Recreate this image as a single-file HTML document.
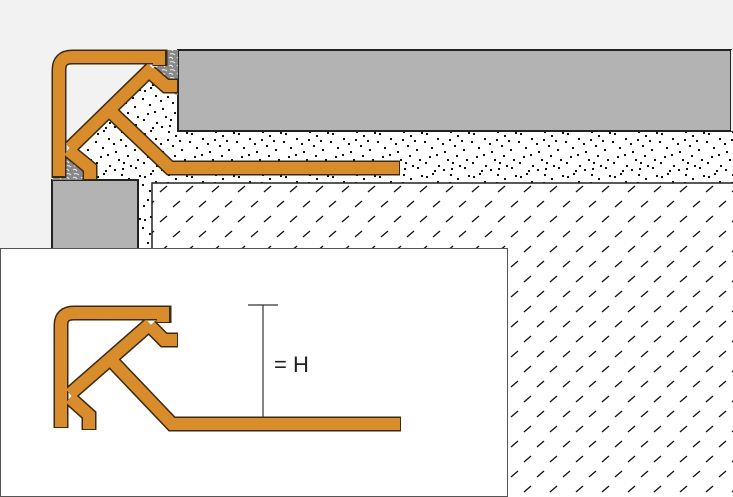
<!DOCTYPE html>
<html><head><meta charset="utf-8"><style>
html,body{margin:0;padding:0;background:#f2f2f2;}
svg{display:block;}
</style></head><body>
<svg width="733" height="497" viewBox="0 0 733 497" xmlns="http://www.w3.org/2000/svg">
<defs>
<pattern id="dots" width="47" height="43" patternUnits="userSpaceOnUse">
<rect width="47" height="43" fill="#fff"/>
<g fill="#111">
<rect x="3" y="4" width="2" height="2"/><rect x="14" y="9" width="2" height="2"/><rect x="27" y="2" width="2" height="2"/>
<rect x="38" y="11" width="2" height="2"/><rect x="8" y="18" width="2" height="2"/><rect x="21" y="22" width="2" height="2"/>
<rect x="33" y="26" width="2" height="2"/><rect x="43" y="30" width="2" height="2"/><rect x="2" y="33" width="2" height="2"/>
<rect x="15" y="36" width="2" height="2"/><rect x="28" y="39" width="2" height="2"/><rect x="40" y="20" width="2" height="2"/>
<rect x="19" y="14" width="2" height="2"/><rect x="31" y="16" width="2" height="2"/><rect x="6" y="27" width="2" height="2"/>
<rect x="24" y="30" width="2" height="2"/><rect x="36" y="36" width="2" height="2"/><rect x="11" y="41" width="2" height="2"/>
<rect x="9" y="1" width="2" height="2"/><rect x="34" y="6" width="2" height="2"/><rect x="45" y="3" width="2" height="2"/>
<rect x="1" y="12" width="2" height="2"/><rect x="26" y="10" width="2" height="2"/><rect x="13" y="25" width="2" height="2"/>
<rect x="41" y="38" width="2" height="2"/><rect x="20" y="40" width="2" height="2"/><rect x="29" y="33" width="2" height="2"/>
</g>
</pattern>
<pattern id="hatch" width="26" height="30" patternUnits="userSpaceOnUse">
<rect width="26" height="30" fill="#fff"/>
<g stroke="#111" stroke-width="1.3">
<line x1="4" y1="12" x2="11" y2="6"/><line x1="17" y1="27" x2="24" y2="21"/>
</g>
</pattern>
<pattern id="grout" width="8" height="8" patternUnits="userSpaceOnUse">
<rect width="8" height="8" fill="#888"/>
<path d="M1 2 Q3 0 5 3 M2 6 Q5 5 7 7" stroke="#eee" fill="none" stroke-width="1"/>
</pattern>
</defs>
<rect width="733" height="497" fill="#f2f2f2"/>
<rect x="52" y="50" width="690" height="460" fill="url(#dots)"/>
<rect x="152" y="183" width="600" height="330" fill="url(#hatch)" stroke="#222" stroke-width="1.5"/>
<rect x="178" y="50" width="553" height="81" fill="#b3b3b3" stroke="#222" stroke-width="2"/>
<rect x="731" y="50" width="2" height="81" fill="#f2f2f2"/>
<rect x="52" y="180" width="86" height="80" fill="#b3b3b3" stroke="#222" stroke-width="2"/>
<polygon points="160,50 178,50 178,95 163,92 150,72" fill="url(#grout)"/>
<polygon points="52,150 70,152 92,172 92,180 52,180" fill="url(#grout)"/>
<!-- frame interior -->
<polygon points="52,50 160,50 160,64 70,150 52,150" fill="#f2f2f2"/>
<g fill="none" stroke-linejoin="miter" stroke-linecap="butt">
<g stroke="#3a2a10" stroke-width="15">
<path d="M59,178 L59,70 Q59,57 72,57 L160,57 L160,66"/>
<path d="M70,148 L152,68"/>
<path d="M150,72 L166,86 L178,86"/>
<path d="M68,150 L90,168 L90,180"/>
<path d="M110,111 L170,168 L400,168"/>
</g>
<g stroke="#d98c2b" stroke-width="12">
<path d="M59,176 L59,70 Q59,57 72,57 L159,57 L159,65"/>
<path d="M70,148 L152,68"/>
<path d="M150,72 L166,86 L177,86"/>
<path d="M68,150 L90,168 L90,179"/>
<path d="M110,111 L170,168 L399,168"/>
</g>
</g>
<rect x="0.5" y="248.5" width="507" height="248" fill="#fff" stroke="#555" stroke-width="1"/>
<g fill="none" stroke-linejoin="miter" stroke-linecap="butt">
<g stroke="#3a2a10" stroke-width="15">
<path d="M61,428 L61,325 Q61,313 74,313 L164,313 L164,323"/>
<path d="M70,394 L150,324"/>
<path d="M150,326 L164,340 L178,340"/>
<path d="M70,398 L89,415 L89,430"/>
<path d="M110,359 L172,424 L401,424"/>
</g>
<g stroke="#d98c2b" stroke-width="12">
<path d="M61,427 L61,325 Q61,313 74,313 L163,313 L163,322"/>
<path d="M70,394 L150,324"/>
<path d="M150,326 L164,340 L177,340"/>
<path d="M70,398 L89,415 L89,429"/>
<path d="M110,359 L172,424 L400,424"/>
</g>
</g>
<g stroke="#333" stroke-width="1.2">
<line x1="263" y1="305" x2="263" y2="418"/>
<line x1="248" y1="305" x2="278" y2="305"/>
</g>
<text x="274" y="372" font-family="Liberation Sans, sans-serif" font-size="22" fill="#222">= H</text>
</svg>
</body></html>
